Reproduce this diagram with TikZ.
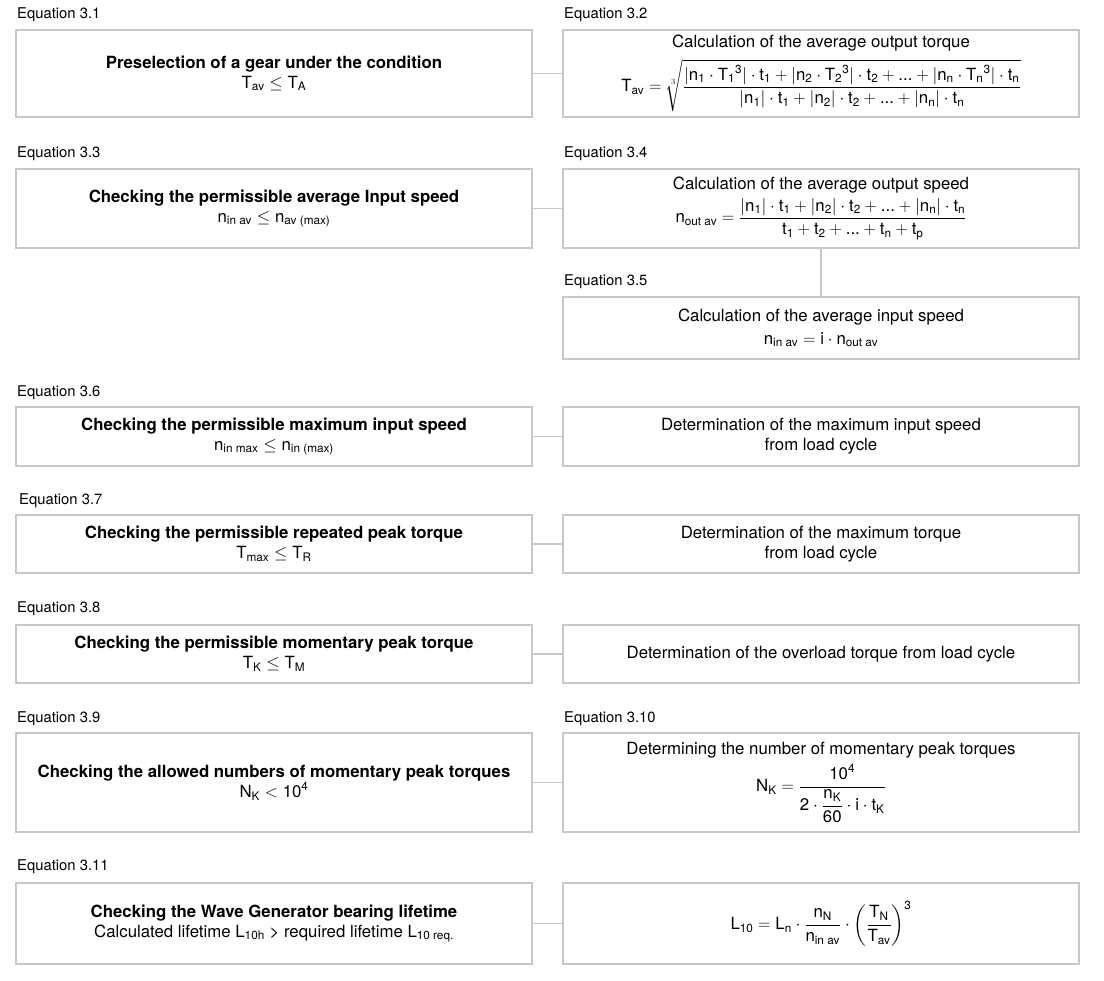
\documentclass[tikz,border=0pt]{standalone}
\usepackage{amsmath}
\usepackage{fontspec}
\setmainfont{TeX Gyre Heros}
\usetikzlibrary{positioning,calc}
\definecolor{rahmen}{RGB}{200,200,200}
\newcommand{\vs}[2]{\text{#1}_{\text{#2}}}
\tikzset{
  chkbox/.style={rectangle, draw=rahmen, line width=1.6pt, minimum width=516pt,
                 minimum height=#1, align=center, outer sep=0pt, inner sep=2pt,
                 font=\fontsize{16.8}{20}\selectfont},
  eqlabel/.style={anchor=west, inner sep=0pt, font=\fontsize{14.8}{17}\selectfont},
  conn/.style={draw=rahmen, line width=1.3pt},
}

\begin{document}
\begin{tikzpicture}[x=1pt, y=1pt]
        \useasboundingbox (0,0) rectangle (1104,-981);
        % 3.1 / 3.2
        \node[chkbox=87pt, anchor=north west] (presel) at (16,-30)
          {\textbf{Preselection of a gear under the condition}\\
           $\vs{T}{av} \leq \vs{T}{A}$};
        \node[chkbox=87pt, right=31pt of presel] (torqav)
          {Calculation of the average output torque\\[7pt]
           $\vs{T}{av} = \sqrt[3]{\dfrac{|\vs{n}{1}\cdot\vs{T}{1}{}^{\text{3}}|\cdot\vs{t}{1}
             + |\vs{n}{2}\cdot\vs{T}{2}{}^{\text{3}}|\cdot\vs{t}{2} + \text{...}
             + |\vs{n}{n}\cdot\vs{T}{n}{}^{\text{3}}|\cdot\vs{t}{n}}
            {|\vs{n}{1}|\cdot\vs{t}{1} + |\vs{n}{2}|\cdot\vs{t}{2} + \text{...}
             + |\vs{n}{n}|\cdot\vs{t}{n}}}$};
        % 3.3 / 3.4 / 3.5
        \node[chkbox=79pt, anchor=north west] (inspeed) at (16,-169)
          {\textbf{Checking the permissible average Input speed}\\
           $\vs{n}{in av} \leq \vs{n}{av (max)}$};
        \node[chkbox=79pt, right=31pt of inspeed] (outav)
          {Calculation of the average output speed\\[4pt]
           $\vs{n}{out av} = \dfrac{|\vs{n}{1}|\cdot\vs{t}{1} + |\vs{n}{2}|\cdot\vs{t}{2}
             + \text{...} + |\vs{n}{n}|\cdot\vs{t}{n}}
            {\vs{t}{1} + \vs{t}{2} + \text{...} + \vs{t}{n} + \vs{t}{p}}$};
        \node[chkbox=62pt, below=49pt of outav] (inav)
          {Calculation of the average input speed\\[3pt]
           $\vs{n}{in av} = \text{i}\cdot\vs{n}{out av}$};
        % 3.6
        \node[chkbox=59pt, anchor=north west] (inmax) at (16,-407)
          {\textbf{Checking the permissible maximum input speed}\\
           $\vs{n}{in max} \leq \vs{n}{in (max)}$};
        \node[chkbox=59pt, right=31pt of inmax] (inmaxlc)
          {Determination of the maximum input speed\\from load cycle};
        % 3.7
        \node[chkbox=58pt, anchor=north west] (peakrep) at (16,-515)
          {\textbf{Checking the permissible repeated peak torque}\\
           $\vs{T}{max} \leq \vs{T}{R}$};
        \node[chkbox=58pt, right=31pt of peakrep] (peakreplc)
          {Determination of the maximum torque\\from load cycle};
        % 3.8
        \node[chkbox=58pt, anchor=north west] (peakmom) at (16,-625)
          {\textbf{Checking the permissible momentary peak torque}\\
           $\vs{T}{K} \leq \vs{T}{M}$};
        \node[chkbox=58pt, right=31pt of peakmom] (peakmomlc)
          {Determination of the overload torque from load cycle};
        % 3.9 / 3.10
        \node[chkbox=99pt, anchor=north west] (peaknum) at (16,-733)
          {\textbf{Checking the allowed numbers of momentary peak torques}\\
           $\vs{N}{K} < \text{10}^{\text{4}}$};
        \node[chkbox=99pt, right=31pt of peaknum] (peaknumcalc)
          {Determining the number of momentary peak torques\\[5pt]
           $\vs{N}{K} = \dfrac{\text{10}^{\text{4}}}
            {\text{2}\cdot\dfrac{\vs{n}{K}}{\text{60}}\cdot\text{i}\cdot\vs{t}{K}}$};
        % 3.11
        \node[chkbox=81pt, anchor=north west] (wavegen) at (16,-883)
          {\textbf{Checking the Wave Generator bearing lifetime}\\
           Calculated lifetime $\vs{L}{10h}$ > required lifetime $\vs{L}{10 req.}$};
        \node[chkbox=81pt, right=31pt of wavegen] (wavegencalc)
          {$\vs{L}{10} = \vs{L}{n}\cdot\dfrac{\vs{n}{N}}{\vs{n}{in av}}\cdot
            \left(\dfrac{\vs{T}{N}}{\vs{T}{av}}\right)^{\text{3}}$};
        % labels
        \node[eqlabel] (l31) at ($(presel.north west)+(1,15)$) {Equation 3.1};
        \node[eqlabel] (l32) at ($(torqav.north west)+(1,15)$) {Equation 3.2};
        \node[eqlabel] (l33) at ($(inspeed.north west)+(1,15)$) {Equation 3.3};
        \node[eqlabel] (l34) at ($(outav.north west)+(1,15)$) {Equation 3.4};
        \node[eqlabel] (l35) at ($(inav.north west)+(1,15)$) {Equation 3.5};
        \node[eqlabel] (l36) at ($(inmax.north west)+(1,14)$) {Equation 3.6};
        \node[eqlabel] (l37) at ($(peakrep.north west)+(3,14)$) {Equation 3.7};
        \node[eqlabel] (l38) at ($(peakmom.north west)+(1,16)$) {Equation 3.8};
        \node[eqlabel] (l39) at ($(peaknum.north west)+(1,14)$) {Equation 3.9};
        \node[eqlabel] (l310) at ($(peaknumcalc.north west)+(1,14)$) {Equation 3.10};
        \node[eqlabel] (l311) at ($(wavegen.north west)+(1,16)$) {Equation 3.11};
        % connectors
        \draw[conn] (presel) -- (torqav); \draw[conn] (inspeed) -- (outav);
        \draw[conn] (outav) -- (inav); \draw[conn] (inmax) -- (inmaxlc);
        \draw[conn] (peakrep) -- (peakreplc); \draw[conn] (peakmom) -- (peakmomlc);
        \draw[conn] (peaknum) -- (peaknumcalc); \draw[conn] (wavegen) -- (wavegencalc);
      \end{tikzpicture}
\end{document}
